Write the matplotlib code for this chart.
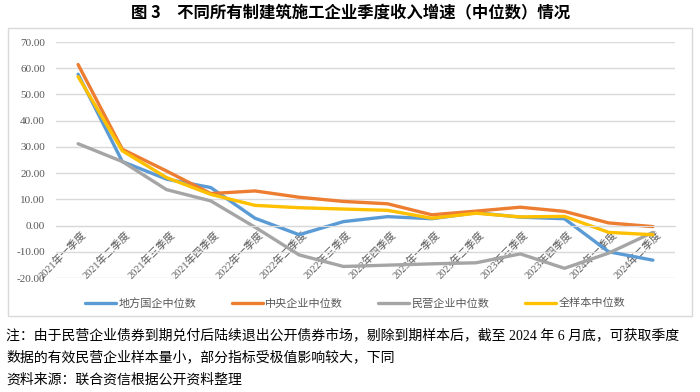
import matplotlib
matplotlib.use("Agg")
import matplotlib.pyplot as plt
from matplotlib.patches import Rectangle
import numpy as np

plt.rcParams['font.family'] = ['Liberation Serif', 'Noto Sans CJK SC', 'DejaVu Sans']

quarters = ['2021年一季度', '2021年二季度', '2021年三季度', '2021年四季度',
            '2022年一季度', '2022年二季度', '2022年三季度', '2022年四季度',
            '2023年一季度', '2023年二季度', '2023年三季度', '2023年四季度',
            '2024年一季度', '2024年二季度']

local_soe = [57.7, 24.4, 17.7, 14.5, 2.8, -3.5, 1.5, 3.4, 2.6, 4.9, 3.2, 2.6, -10.0, -13.2]
central = [61.4, 29.1, 20.8, 12.2, 13.2, 10.8, 9.2, 8.3, 4.1, 5.5, 7.0, 5.4, 1.0, -0.4]
private = [31.2, 24.4, 13.7, 9.4, -0.6, -11.2, -15.6, -15.1, -14.6, -14.2, -10.8, -16.3, -10.5, -2.6]
all_sample = [56.8, 28.5, 18.3, 11.9, 7.7, 6.8, 6.3, 5.8, 2.8, 4.7, 3.3, 3.5, -2.6, -3.5]

series = [
    ('地方国企中位数', local_soe, '#5B9BD5'),
    ('中央企业中位数', central, '#ED7D31'),
    ('民营企业中位数', private, '#A5A5A5'),
    ('全样本中位数', all_sample, '#FFC000'),
]

W, H = 700, 392
fig = plt.figure(figsize=(7, 3.92), dpi=100)
ax = fig.add_axes([56 / W, 1 - 278 / H, (675 - 56) / W, (278 - 42) / H])

x = np.arange(len(quarters))
for name, vals, col in series:
    ax.plot(x, vals, color=col, lw=2.4, label=name, solid_capstyle='round')

ax.set_xlim(-0.5, len(quarters) - 0.5)
ax.set_ylim(-20, 70)
ax.set_yticks(np.arange(-20, 71, 10))
ax.set_yticklabels(['%.2f' % v for v in np.arange(-20, 71, 10)])
ax.yaxis.grid(True, color='#D9D9D9', lw=1)
ax.set_axisbelow(True)
for s in ['left', 'right', 'top']:
    ax.spines[s].set_visible(False)
ax.spines['bottom'].set_position(('data', 0))
ax.spines['bottom'].set_color('#D9D9D9')
ax.tick_params(axis='y', length=0, labelsize=8, labelcolor='#595959', pad=8)
ax.tick_params(axis='x', length=0, labelsize=7.5, labelcolor='#595959', pad=3)
ax.set_xticks(x)
ax.set_xticklabels(quarters, rotation=45, ha='right', va='top', rotation_mode='anchor')
shift = matplotlib.transforms.ScaledTranslation(3 / 100, 0, fig.dpi_scale_trans)
for lbl in ax.get_xticklabels():
    lbl.set_transform(lbl.get_transform() + shift)

# chart frame
fig.patches.append(Rectangle((8 / W, 1 - 316 / H), (692 - 8) / W, (316 - 28) / H,
                             transform=fig.transFigure, fill=False, ec='#D9D9D9', lw=1))

fig.legend(loc='center', bbox_to_anchor=(355 / W, 1 - 303 / H), ncol=4, frameon=False,
           fontsize=8, labelcolor='#595959', handlelength=2.8, handletextpad=0.2,
           columnspacing=3.2)

fig.text(351 / W, 1 - 13 / H, '图 3　不同所有制建筑施工企业季度收入增速（中位数）情况',
         ha='center', va='center', fontsize=11.8, fontweight='bold',
         family=['Noto Sans CJK SC', 'DejaVu Sans'])

notes = [
    '注：由于民营企业债券到期兑付后陆续退出公开债券市场，剔除到期样本后，截至 2024 年 6 月底，可获取季度',
    '数据的有效民营企业样本量小，部分指标受极值影响较大，下同',
    '资料来源：联合资信根据公开资料整理',
]
for i, t in enumerate(notes):
    fig.text(6 / W, 1 - (335 + 22.5 * i) / H, t, ha='left', va='center', fontsize=10)

fig.savefig('out.png', dpi=100)
